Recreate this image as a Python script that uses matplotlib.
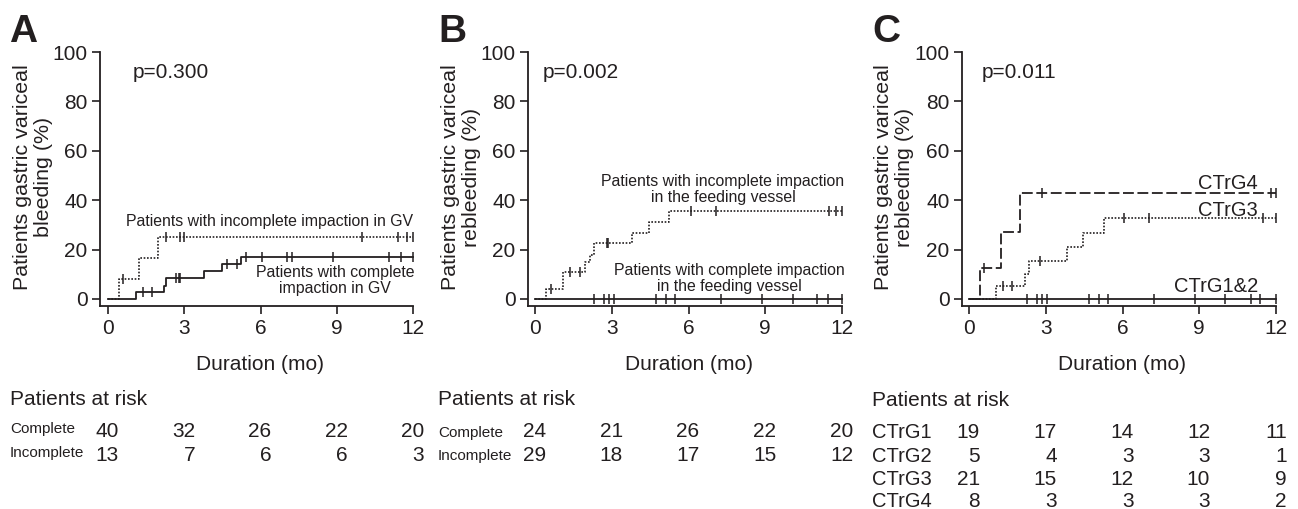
import numpy as np
import matplotlib
matplotlib.use("Agg")
import matplotlib.pyplot as plt
import matplotlib.transforms as mtransforms

# ---------------- data ----------------
months_ticks = [0, 3, 6, 9, 12]
y_ticks = [0, 20, 40, 60, 80, 100]

# Panel A
A_inc_t = [0, 0.45, 1.2, 1.95, 12]
A_inc_y = [0, 8.1, 16.4, 24.9, 24.9]
A_inc_cens = [0.6, 2.28, 2.84, 3.0, 10.0, 11.4, 11.75, 12.0]
A_com_t = [0, 1.11, 2.19, 2.29, 3.78, 4.48, 5.25, 12]
A_com_y = [0, 2.7, 5.4, 8.4, 11.5, 14.2, 17.1, 17.1]
A_com_cens = [1.36, 1.73, 2.67, 2.8, 2.85, 4.67, 5.07, 5.43, 6.05, 7.03, 7.23,
              8.86, 11.05, 11.52, 12.0]

# Panel B
B_inc_t = [0, 0.44, 1.1, 1.97, 2.15, 2.32, 3.8, 4.46, 5.25, 12]
B_inc_y = [0, 4.0, 11.0, 15.0, 18.0, 22.6, 26.8, 31.3, 35.6, 35.6]
B_inc_cens = [0.64, 1.36, 1.75, 2.8, 2.86, 6.1, 7.08, 11.5, 11.78, 12.0]
B_com_t = [0, 12]
B_com_y = [0, 0]
B_com_cens = [2.3, 2.69, 2.88, 3.07, 4.73, 5.12, 5.47, 7.26, 8.86, 10.07, 11.04,
              11.44, 12.0]

# Panel C
C4_t = [0, 0.44, 1.24, 2.0, 12]
C4_y = [0, 12.7, 27.3, 42.9, 42.9]
C4_cens = [0.59, 2.86, 11.8, 12.0]
C3_t = [0, 1.07, 2.2, 2.35, 3.84, 4.44, 5.27, 12]
C3_y = [0, 5.4, 10.1, 15.5, 21.2, 26.9, 32.9, 32.9]
C3_cens = [1.33, 1.7, 2.77, 6.06, 7.02, 11.5, 12.0]
C12_t = [0, 12]
C12_y = [0, 0]
C12_cens = [2.27, 2.64, 2.85, 3.03, 4.69, 5.09, 5.44, 7.23, 8.84, 10.01, 11.02,
            11.39, 12.0]

# Patients at risk
A_risk_labels = ["Complete", "Incomplete"]
A_risk = [[40, 32, 26, 22, 20], [13, 7, 6, 6, 3]]
B_risk_labels = ["Complete", "Incomplete"]
B_risk = [[24, 21, 26, 22, 20], [29, 18, 17, 15, 12]]
C_risk_labels = ["CTrG1", "CTrG2", "CTrG3", "CTrG4"]
C_risk = [[19, 17, 14, 12, 11], [5, 4, 3, 3, 1], [21, 15, 12, 10, 9], [8, 3, 3, 3, 2]]

# ---------------- style ----------------
TXT = "#231f20"
FONT = ["Liberation Sans", "DejaVu Sans"]
plt.rcParams["font.family"] = FONT
plt.rcParams["text.color"] = TXT

W, H = 1298, 509
fig = plt.figure(figsize=(W / 100, H / 100), dpi=100)


def fx(px):
    return px / W


def fy(py):
    return 1 - py / H


def make_ax(left_px, right_px, x0_px):
    ax = fig.add_axes([fx(left_px), fy(306), (right_px - left_px) / W, (306 - 52) / H])
    ppm = (right_px - x0_px) / 12.0
    ax.set_xlim(-(x0_px - left_px) / ppm, 12)
    ax.set_ylim(-7 / 2.47, 100)
    for s in ["top", "right"]:
        ax.spines[s].set_visible(False)
    for s in ["left", "bottom"]:
        ax.spines[s].set_linewidth(1.3)
        ax.spines[s].set_color(TXT)
    ax.set_xticks(months_ticks)
    ax.set_yticks(y_ticks)
    ax.tick_params(direction="out", length=6, width=1.2, labelsize=15, colors=TXT, pad=3)
    ax.patch.set_alpha(0)
    return ax


def step_value(ts, ys, t):
    idx = np.searchsorted(np.asarray(ts), t, side="right") - 1
    return np.asarray(ys)[np.clip(idx, 0, len(ys) - 1)]


def km(ax, ts, ys, cens, ls, lw=1.3):
    ax.step(ts, ys, where="post", color=TXT, linestyle=ls, lw=lw, clip_on=False)
    cy = [step_value(ts, ys, c) for c in cens]
    ax.plot(cens, cy, linestyle="none", marker="|", markersize=7, mew=1.1,
            color=TXT, clip_on=False)


dotted = (0, (1, 1))
dashed = (0, (6, 2))

axA = make_ax(100, 413, 108)
axB = make_ax(528, 842, 535)
axC = make_ax(962, 1276, 969)

km(axA, A_inc_t, A_inc_y, A_inc_cens, dotted, 1.2)
km(axA, A_com_t, A_com_y, A_com_cens, "-")
km(axB, B_inc_t, B_inc_y, B_inc_cens, dotted, 1.2)
km(axB, B_com_t, B_com_y, B_com_cens, "-")
km(axC, C12_t, C12_y, C12_cens, "-")
km(axC, C3_t, C3_y, C3_cens, dotted, 1.2)
km(axC, C4_t, C4_y, C4_cens, dashed)

# p-values
axA.text(0.98, 89.5, "p=0.300", fontsize=15, va="baseline", ha="left")
axB.text(0.31, 89.5, "p=0.002", fontsize=15, va="baseline", ha="left")
axC.text(0.51, 89.5, "p=0.011", fontsize=15, va="baseline", ha="left")

# curve annotations (baseline = last line for multi-line text)
ANN = 11.4
axA.text(12, 29.6, "Patients with incomplete impaction in GV", fontsize=ANN,
         ha="right", va="baseline")
axA.text(8.93, 2.4, "Patients with complete\nimpaction in GV", fontsize=ANN,
         ha="center", va="baseline", multialignment="center", linespacing=1.05)
axB.text(7.35, 39.4, "Patients with incomplete impaction\nin the feeding vessel",
         fontsize=ANN, ha="center", va="baseline", multialignment="center",
         linespacing=1.05)
axB.text(7.58, 3.2, "Patients with complete impaction\nin the feeding vessel",
         fontsize=ANN, ha="center", va="baseline", multialignment="center",
         linespacing=1.05)
axC.text(11.3, 44.5, "CTrG4", fontsize=14.5, ha="right", va="baseline")
axC.text(11.3, 33.6, "CTrG3", fontsize=14.5, ha="right", va="baseline")
axC.text(11.3, 2.8, "CTrG1&2", fontsize=14.5, ha="right", va="baseline")

# axis labels
for xc, ylab in [(33, "Patients gastric variceal\nbleeding (%)"),
                 (461, "Patients gastric variceal\nrebleeding (%)"),
                 (894, "Patients gastric variceal\nrebleeding (%)")]:
    fig.text(fx(xc), fy(177), ylab, rotation=90, fontsize=15.4, ha="center",
             va="center", multialignment="center", linespacing=1.12)

for ax, xc in [(axA, 260.5), (axB, 688.5), (axC, 1122.5)]:
    fig.text(fx(xc), fy(370), "Duration (mo)", fontsize=15, ha="center", va="baseline")

# panel letters
for px, letter in [(9, "A"), (438, "B"), (872, "C")]:
    fig.text(fx(px), fy(42), letter, fontsize=28, fontweight="bold",
             family=["Liberation Sans Narrow", "Liberation Sans"],
             ha="left", va="baseline")


# patients at risk tables
def risk_table(ax, left_px, labels, rows, label_size, label_base, num_base, head_base):
    fig.text(fx(left_px), fy(head_base), "Patients at risk", fontsize=15,
             ha="left", va="baseline")
    trans = mtransforms.blended_transform_factory(ax.transData, fig.transFigure) + \
        mtransforms.ScaledTranslation(11 / 100, 0, fig.dpi_scale_trans)
    for lab, row, lb, nb in zip(labels, rows, label_base, num_base):
        fig.text(fx(left_px), fy(lb), lab, fontsize=label_size, ha="left", va="baseline")
        for t, n in zip(months_ticks, row):
            fig.text(t, fy(nb), str(n), fontsize=15, ha="right", va="baseline",
                     transform=trans)


risk_table(axA, 10, A_risk_labels, A_risk, 11, [433, 457], [437, 461], 405)
risk_table(axB, 438, B_risk_labels, B_risk, 11, [437, 460], [437, 461], 405)
risk_table(axC, 872, C_risk_labels, C_risk, 14.5, [438, 462, 485, 507],
           [438, 462, 485, 507], 406)

fig.savefig("out.png", dpi=100)
